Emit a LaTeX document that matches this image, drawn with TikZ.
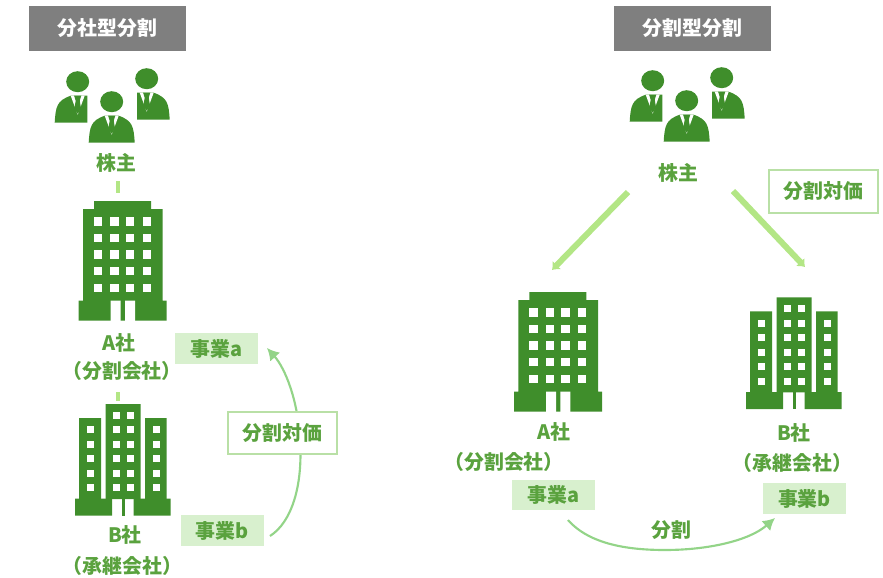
\documentclass[tikz,border=0pt]{standalone}
\usepackage{fontspec}
\setmainfont{Noto Sans CJK JP}
\usetikzlibrary{arrows.meta, calc}
\definecolor{leaf}{HTML}{3F8E2B}
\definecolor{inkgreen}{HTML}{5AA23E}
\definecolor{sprout}{HTML}{B3E685}
\definecolor{curveline}{HTML}{93D488}
\definecolor{bizfill}{HTML}{D8F0CE}
\definecolor{priceline}{HTML}{B9E0A6}
\definecolor{titlegray}{HTML}{7F7F7F}
\tikzset{
	caption/.style={text=inkgreen, font=\bfseries\fontsize{14.9}{16}\selectfont, inner sep=0pt},
	titlebox/.style={fill=titlegray, text=white, font=\bfseries\fontsize{14.9}{16}\selectfont, minimum width=118pt, minimum height=34pt, inner sep=0pt},
	bizbox/.style={caption, fill=bizfill, minimum width=62pt, minimum height=23pt},
	pricebox/.style={caption, draw=priceline, line width=1.5pt, fill=white, minimum width=82pt, minimum height=32pt},
	stubline/.style={draw=sprout, line width=3.6pt},
	bigarrow/.style={draw=sprout, line width=4.5pt, -{Latex[length=5pt, width=9pt]}},
	bendline/.style={draw=curveline, line width=1.6pt, -{Latex[length=9pt, width=10pt]}},
	staffside/.pic={
		\fill[leaf] (0,0) ellipse (11.5 and 10.5);
		\fill[leaf] (-23,41) .. controls (-22,25) and (-21,19) .. (-7,14) -- (9.7,14) -- (9.7,41) -- cycle;
		\fill[white] (-7,14) -- (7,14) -- (0,33) -- cycle;
		\fill[leaf] (-3.6,14) -- (3.6,14) -- (2,19) -- (3.4,27) -- (0,32) -- (-3.4,27) -- (-2,19) -- cycle;
	},
	staffmid/.pic={
		\fill[leaf] (0,0) ellipse (11.5 and 10.5);
		\fill[leaf] (-23,41) .. controls (-22,25) and (-21,19) .. (-7,14) -- (7,14) .. controls (21,19) and (22,25) .. (23,41) -- cycle;
		\fill[white] (-7,14) -- (7,14) -- (0,33) -- cycle;
		\fill[leaf] (-3.6,14) -- (3.6,14) -- (2,19) -- (3.4,27) -- (0,32) -- (-3.4,27) -- (-2,19) -- cycle;
	},
	holders/.pic={
		\pic at (-34,-20) {staffside};
		\pic at (0,0) {staffmid};
		\pic[xscale=-1] at (35,-23) {staffside};
	},
	tower/.pic={
		\fill[leaf] (15.3,0) rectangle (72.3,9) (4.3,8) rectangle (84,100) (0,99.7) rectangle (88,119.7);
		\foreach \wx in {19.3,35.7,51.5,68}
			\foreach \wy in {20.3,37,53.6,70,87}
				\fill[white] ($(\wx,\wy)+(-4.2,-4.2)$) rectangle ($(\wx,\wy)+(4.2,4.2)$);
		\fill[white] (32,99.7) rectangle (42,120) (46.3,99.7) rectangle (56.3,120);
	},
	cluster/.pic={
		\fill[leaf] (30.7,0) rectangle (65.7,95) (4,14) rectangle (26,96) (70,14) rectangle (91.7,96);
		\fill[leaf] (0,94.7) rectangle (37,111.7) (58.7,94.7) rectangle (95.7,111.7);
		\fill[leaf] (46.7,94.7) rectangle (50,111.7);
		\foreach \wy in {11,25.7,40.4,54.7,69,83.7}
			\foreach \wx in {41,55}
				\fill[white] ($(\wx,\wy)+(-3.5,-3.5)$) rectangle ($(\wx,\wy)+(3.5,3.5)$);
		\foreach \wy in {25.7,40.4,54.7,69,83.7}
			\foreach \wx in {15,81}
				\fill[white] ($(\wx,\wy)+(-3.5,-3.5)$) rectangle ($(\wx,\wy)+(3.5,3.5)$);
	},
}
\begin{document}
\begin{tikzpicture}[x=.75pt, y=-.75pt]
	\useasboundingbox (0,0) rectangle (883,578);

	\node[titlebox] (titleL) at (107.3,28.5) {分社型分割};
	\pic at (111.7,101.7) {holders};
	\node[caption] (holderL) at (116.7,163) {株主};
	\coordinate (stubA) at (118,181);
	\coordinate (stubB) at (118,193);
	\draw[stubline] (stubA) -- (stubB);
	\pic at (78.7,201) {tower};
	\node[caption] (nameAL) at (119,343) {A社};
	\node[caption] (roleAL) at (122,371) {（分割会社）};
	\coordinate (stubC) at (118,392);
	\coordinate (stubD) at (118,401);
	\draw[stubline] (stubC) -- (stubD);
	\pic at (75,404) {cluster};
	\node[caption] (nameBL) at (125,535) {B社};
	\node[caption] (roleBL) at (122.5,566) {（承継会社）};
	\node[bizbox] (bizAL) at (216.3,348.5) {事業a};
	\node[bizbox] (bizBL) at (222.2,530.5) {事業b};
	\coordinate (fromBL) at (270,536);
	\coordinate (toAL) at (267,348);
	\draw[bendline] (fromBL) .. controls (292,522) and (303,485) .. (300,440) .. controls (298,400) and (285,368) .. (toAL);
	\node[pricebox] (priceL) at (282.5,433) {分割対価};

	\node[titlebox] (titleR) at (692.5,28.5) {分割型分割};
	\pic at (686.7,100.7) {holders};
	\node[caption] (holderR) at (678,172.7) {株主};
	\node[pricebox] (priceR) at (823.7,191.3) {分割対価};
	\coordinate (fromHL) at (628,192);
	\coordinate (toA) at (552,270);
	\coordinate (fromHR) at (733,191);
	\coordinate (toB) at (805,267);
	\draw[bigarrow] (fromHL) -- (toA);
	\draw[bigarrow] (fromHR) -- (toB);
	\pic at (514,292) {tower};
	\pic at (746,297.3) {cluster};
	\node[caption] (nameAR) at (554,432) {A社};
	\node[caption] (roleAR) at (504,462) {（分割会社）};
	\node[caption] (nameBR) at (794,433) {B社};
	\node[caption] (roleBR) at (792.5,462.7) {（承継会社）};
	\node[bizbox] (bizAR) at (553.3,495) {事業a};
	\node[bizbox] (bizBR) at (804.5,498.5) {事業b};
	\node[caption] (split) at (671.7,530) {分割};
	\coordinate (fromAR) at (568,520);
	\coordinate (toBR) at (775,518);
	\draw[bendline] (fromAR) .. controls (590,545) and (630,550) .. (665,550) .. controls (710,550) and (750,540) .. (toBR);
\end{tikzpicture}
\end{document}
